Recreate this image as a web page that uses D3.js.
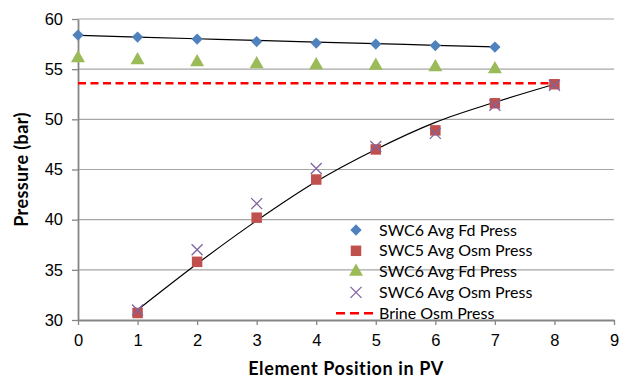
<!DOCTYPE html>
<html>
<head>
<meta charset="utf-8">
<script src="https://cdn.jsdelivr.net/npm/d3@7"></script>
<style>
  body { margin: 0; background: #fff; }
  svg { font-family: Lato, "Open Sans", sans-serif; }
  .tick text { font-size: 16.5px; fill: #000; }
</style>
</head>
<body>
<svg width="624" height="378"><g id="chart"></g></svg>
<script>
// values
const positions = [0, 1, 2, 3, 4, 5, 6, 7, 8];
const swc6FdPress = [58.4, 58.2, 58.0, 57.75, 57.6, 57.5, 57.35, 57.2];        // x 0..7
const swc5OsmPress = [30.7, 35.8, 40.2, 44.0, 47.0, 48.9, 51.6, 53.5];         // x 1..8
const swc6FdPress2 = [56.1, 55.9, 55.7, 55.5, 55.4, 55.35, 55.2, 55.0];        // x 0..7
const swc6OsmPress = [31.0, 37.0, 41.6, 45.1, 47.3, 48.6, 51.4, 53.4];         // x 1..8
const brineOsmPress = [53.6, 53.6];                                            // x 0..8
const fdTrend = [58.38, 58.2, 58.03, 57.86, 57.7, 57.54, 57.38, 57.22];         // x 0..7
const osmTrend = [31.0, 35.6, 39.9, 43.8, 47.0, 49.7, 51.7, 53.5];             // x 1..8
const xTicks = [0, 1, 2, 3, 4, 5, 6, 7, 8, 9];
const yTicks = [30, 35, 40, 45, 50, 55, 60];
const seriesNames = ['SWC6 Avg Fd Press', 'SWC5 Avg Osm Press', 'SWC6 Avg Fd Press', 'SWC6 Avg Osm Press', 'Brine Osm Press'];

const MARGIN = { left: 78, right: 10, top: 19, bottom: 58 };
const WIDTH = 624 - MARGIN.left - MARGIN.right;
const HEIGHT = 378 - MARGIN.top - MARGIN.bottom;

const chart = d3.select('#chart').attr('transform', `translate(${MARGIN.left},${MARGIN.top})`);

const x = d3.scaleLinear().domain([0, 9]).range([0, 536]);
const y = d3.scaleLinear().domain([30, 60]).range([HEIGHT, 0]);

// horizontal gridlines
chart.selectAll('.grid')
  .data(yTicks.slice(1))
  .join('line')
  .attr('x1', 0).attr('x2', x(9))
  .attr('y1', d => y(d)).attr('y2', d => y(d))
  .attr('stroke', '#a6a6a6').attr('stroke-width', 1.2);

// axes
const yAxis = chart.append('g')
  .call(d3.axisLeft(y).tickValues(yTicks).tickSize(6).tickSizeOuter(0).tickPadding(9));
const xAxis = chart.append('g')
  .attr('transform', `translate(0,${HEIGHT})`)
  .call(d3.axisBottom(x).tickValues(xTicks).tickSize(5).tickSizeOuter(0).tickPadding(9));
[xAxis, yAxis].forEach(a => {
  a.select('.domain').attr('stroke', '#868686').attr('stroke-width', 1.8);
  a.selectAll('.tick line').attr('stroke', '#868686').attr('stroke-width', 1.3);
});

// axis titles
chart.append('text')
  .attr('x', x(4.5)).attr('y', HEIGHT + 55)
  .attr('text-anchor', 'middle')
  .style('font-size', '18px').style('font-weight', 'bold').style('letter-spacing', '0.6px')
  .text('Element Position in PV');
chart.append('text')
  .attr('transform', `translate(${-MARGIN.left + 28},${y(45)}) rotate(-90)`)
  .attr('text-anchor', 'middle')
  .style('font-size', '18px').style('font-weight', 'bold').style('letter-spacing', '0.4px')
  .text('Pressure (bar)');

// brine line
chart.append('line')
  .attr('x1', x(0)).attr('x2', x(8))
  .attr('y1', y(brineOsmPress[0])).attr('y2', y(brineOsmPress[1]))
  .attr('stroke', '#ff0000').attr('stroke-width', 2.5)
  .attr('stroke-dasharray', '8,4.5');

// trend lines
const line = d3.line().x(d => x(d[0])).y(d => y(d[1])).curve(d3.curveMonotoneX);
chart.append('path')
  .datum(fdTrend.map((v, i) => [positions[i], v]))
  .attr('d', line).attr('fill', 'none').attr('stroke', '#000').attr('stroke-width', 1.2);
chart.append('path')
  .datum(osmTrend.map((v, i) => [positions[i + 1], v]))
  .attr('d', line).attr('fill', 'none').attr('stroke', '#000').attr('stroke-width', 1.2);

// markers
const diamond = d3.symbol().type(d3.symbolSquare).size(64);
const square = d3.symbol().type(d3.symbolSquare).size(110);
const triangle = d3.symbol().type(d3.symbolTriangle).size(85);

function drawMarkers(data, offset, cls, draw) {
  chart.selectAll('.' + cls)
    .data(data.map((v, i) => [positions[i + offset], v]))
    .join('g')
    .classed(cls, true)
    .attr('transform', d => `translate(${x(d[0])},${y(d[1])})`)
    .each(function () { draw(d3.select(this)); });
}

const drawDiamond = g => g.append('path').attr('d', diamond).attr('transform', 'rotate(45)').attr('fill', '#4f81bd');
const drawSquare = g => g.append('path').attr('d', square).attr('fill', '#c0504d');
const drawTriangle = g => g.append('path').attr('d', triangle).attr('fill', '#9bbb59');
const drawCross = g => g.append('path').attr('d', 'M-5.5,-5.5L5.5,5.5M-5.5,5.5L5.5,-5.5')
  .attr('stroke', '#8064a2').attr('stroke-width', 1.3).attr('fill', 'none');

drawMarkers(swc6FdPress, 0, 'fd6', drawDiamond);
drawMarkers(swc5OsmPress, 1, 'osm5', drawSquare);
drawMarkers(swc6FdPress2, 0, 'fd6b', drawTriangle);
drawMarkers(swc6OsmPress, 1, 'osm6', drawCross);

// legend
const legend = d3.select('svg').append('g').attr('transform', 'translate(356,230)');
const markers = [drawDiamond, drawSquare, drawTriangle, drawCross, null];
const rows = legend.selectAll('g')
  .data(seriesNames)
  .join('g')
  .attr('transform', (d, i) => `translate(0,${i * 20.8})`);
rows.each(function (d, i) {
  const g = d3.select(this);
  if (markers[i]) markers[i](g.append('g'));
  else g.append('line').attr('x1', -20).attr('x2', 20)
    .attr('stroke', '#ff0000').attr('stroke-width', 2.5).attr('stroke-dasharray', '9,5');
});
rows.append('text')
  .attr('x', 23).attr('y', 0).attr('dy', '0.35em')
  .style('font-size', '16px')
  .text(d => d);
</script>
</body>
</html>
